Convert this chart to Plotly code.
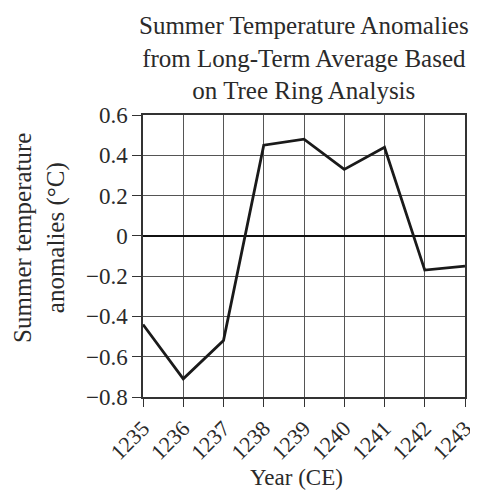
import plotly.graph_objects as go

# Datos
years = [1235, 1236, 1237, 1238, 1239, 1240, 1241, 1242, 1243]
anomalies = [-0.44, -0.71, -0.52, 0.45, 0.48, 0.33, 0.44, -0.17, -0.15]
y_ticks = [0.6, 0.4, 0.2, 0, -0.2, -0.4, -0.6, -0.8]
y_labels = ['0.6', '0.4', '0.2', '0', '\u22120.2', '\u22120.4', '\u22120.6', '\u22120.8']

fuente = 'Liberation Serif'
color_texto = '#2a2a2a'

fig = go.Figure()

fig.add_trace(go.Scatter(x=years, y=anomalies, mode='lines',
                         line=dict(color='#1a1a1a', width=2.8), showlegend=False))

# La página deja 8px de margen en el body, así que la figura se hace 8px más pequeña
fig.update_layout(
    width=470, height=483,
    margin=dict(l=135, r=13, t=107, b=94),
    paper_bgcolor='white', plot_bgcolor='white',
    font=dict(family=fuente, color=color_texto, size=23),
)

# Título
fig.add_annotation(text='Summer Temperature Anomalies<br>from Long-Term Average Based<br>on Tree Ring Analysis',
                   xref='paper', yref='paper', x=0.5, y=1.202, xanchor='center', yanchor='middle',
                   showarrow=False, font=dict(size=25, color=color_texto))

# Título eje y
fig.add_annotation(text='Summer temperature<br>anomalies (\u00b0C)', textangle=-90,
                   xref='paper', yref='paper', x=-0.32, y=0.564, xanchor='center', yanchor='middle',
                   showarrow=False, font=dict(size=25, color=color_texto))

# Título eje x
fig.add_annotation(text='Year (CE)', xref='paper', yref='paper', x=0.478, y=-0.284,
                   xanchor='center', yanchor='middle', showarrow=False,
                   font=dict(size=23, color=color_texto))

fig.update_xaxes(
    range=[1235, 1243], tickvals=years, ticktext=[str(y) for y in years],
    tickangle=-45, ticks='outside', ticklen=8, tickcolor='#333',
    showgrid=True, gridcolor='#555', gridwidth=1,
    showline=True, linecolor='#333', linewidth=1.5, mirror=True,
    zeroline=False, automargin=False,
    tickfont=dict(size=22),
)

fig.update_yaxes(
    range=[-0.8, 0.6], tickvals=y_ticks, ticktext=y_labels,
    ticks='outside', ticklen=9, tickcolor='#333',
    showgrid=True, gridcolor='#555', gridwidth=1,
    showline=True, linecolor='#333', linewidth=1.5, mirror=True,
    zeroline=True, zerolinecolor='#111', zerolinewidth=2,
    automargin=False,
    tickfont=dict(size=23),
)

fig.write_html('out.html')
